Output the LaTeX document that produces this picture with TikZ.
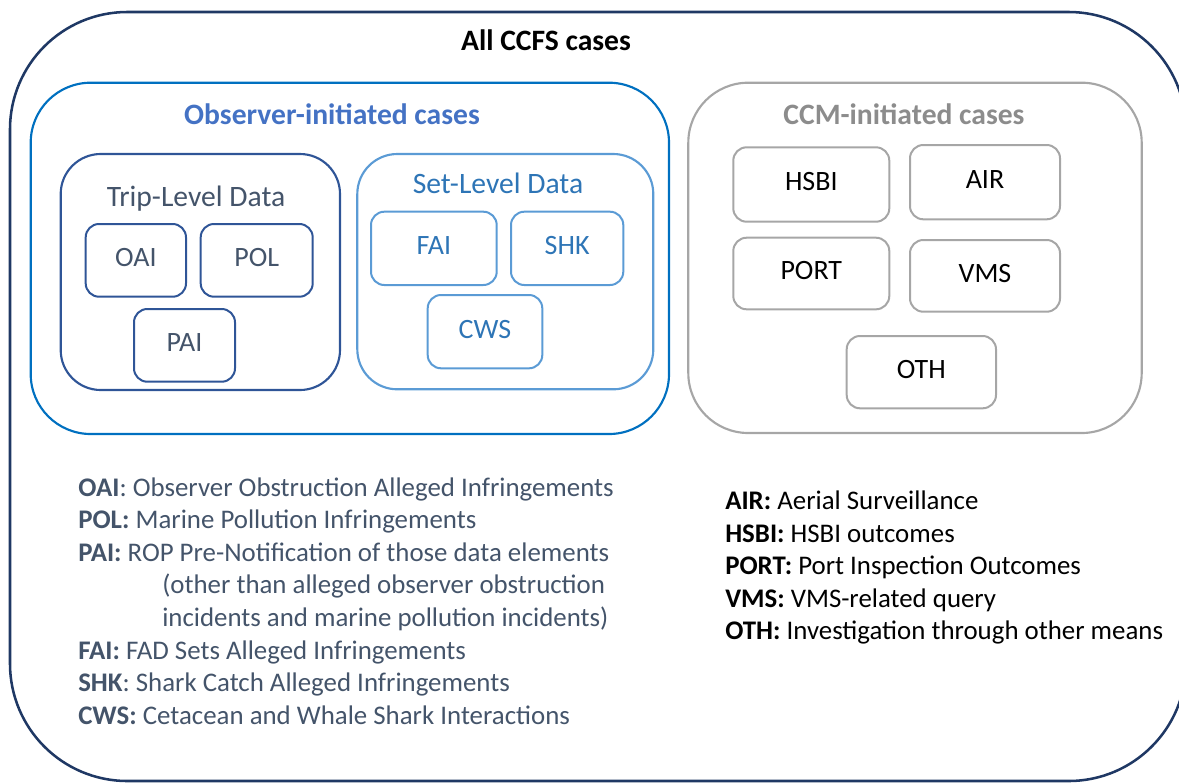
\documentclass[tikz,border=0pt]{standalone}
\usepackage{fontspec}
\setmainfont{Carlito}
\usepackage[dvipsnames,svgnames]{xcolor}

\definecolor{navyline}{HTML}{1F3864}
\definecolor{obsblue}{HTML}{0070C0}
\definecolor{tripblue}{HTML}{2F5597}
\definecolor{setblue}{HTML}{5B9BD5}
\definecolor{settext}{HTML}{2E75B6}
\definecolor{titleblue}{HTML}{4472C4}
\definecolor{slate}{HTML}{44546A}
\definecolor{ccmgray}{HTML}{A6A6A6}
\definecolor{ccmtitle}{HTML}{8C8C8C}

\begin{document}
\begin{tikzpicture}[x=0.75pt,y=0.75pt,yscale=-1,xscale=1,
    boxsize/.style 2 args={minimum width=#1*0.75pt, minimum height=#2*0.75pt},
    rrect/.style={draw, rectangle, rounded corners=#1, inner sep=0pt},
    casebox/.style={rrect=10pt, line width=1.5pt, text depth=4pt, font=\fontsize{21}{25}\selectfont},
    titlefont/.style={font=\fontsize{22.2}{26}\selectfont\bfseries},
    headfont/.style={font=\fontsize{22.2}{26}\selectfont},
    legfont/.style={font=\fontsize{20.15}{24.5}\selectfont, inner sep=0pt, anchor=base west}
  ]
\useasboundingbox (0,0) rectangle (1179,783);

%Rounded Rect: all cases
\node[rrect=88pt, line width=1.9pt, draw=navyline, boxsize={1176}{769}] (allcases) at (598,396.5) {};
% Text Node
\node[titlefont, anchor=base, inner sep=0pt] (alltitle) at (546,50) {All CCFS cases};

%Rounded Rect: observer-initiated
\node[rrect=45pt, line width=1.6pt, draw=obsblue, boxsize={638.3}{351.3}] (observer) at (349.85,258.35) {};
% Text Node
\node[titlefont, text=titleblue, anchor=base, inner sep=0pt] (obstitle) at (332,124) {Observer-initiated cases};

%Rounded Rect: trip-level
\node[rrect=30pt, line width=1.6pt, draw=tripblue, boxsize={279.3}{236}] (trip) at (200.35,272) {};
% Text Node
\node[headfont, text=slate, anchor=base, inner sep=0pt] (triptitle) at (196,206) {Trip-Level Data};

\node[casebox, draw=tripblue, text=slate, boxsize={100.3}{72.7}] (oai) at (135.85,260.35) {OAI};
\node[casebox, draw=tripblue, text=slate, boxsize={112}{72.7}] (pol) at (256.7,260.35) {POL};
\node[casebox, draw=tripblue, text=slate, boxsize={101}{72.7}] (pai) at (184.5,345.35) {PAI};

%Rounded Rect: set-level
\node[rrect=30pt, line width=1.6pt, draw=setblue, boxsize={296}{235.3}] (set) at (505.3,271.65) {};
% Text Node
\node[headfont, text=settext, anchor=base, inner sep=0pt] (settitle) at (498,193) {Set-Level Data};

\node[casebox, draw=setblue, text=settext, boxsize={125.7}{73.3}] (fai) at (433.85,248.35) {FAI};
\node[casebox, draw=setblue, text=settext, boxsize={112.3}{73.3}] (shk) at (567.15,248.35) {SHK};
\node[casebox, draw=setblue, text=settext, boxsize={114.6}{73.3}] (cws) at (485,331.65) {CWS};

%Rounded Rect: CCM-initiated
\node[rrect=45pt, line width=1.6pt, draw=ccmgray, boxsize={453.4}{350.3}] (ccm) at (915,257.85) {};
% Text Node
\node[titlefont, text=ccmtitle, anchor=base, inner sep=0pt] (ccmtitle) at (904,124) {CCM-initiated cases};

\node[casebox, draw=ccmgray, boxsize={156}{74.4}] (hsbi) at (811.3,184.5) {HSBI};
\node[casebox, draw=ccmgray, boxsize={150}{74.3}] (air) at (985,182.15) {AIR};
\node[casebox, draw=ccmgray, boxsize={156}{71.6}] (port) at (811.3,273.5) {PORT};
\node[casebox, draw=ccmgray, boxsize={150}{71.7}] (vms) at (985,275.85) {VMS};
\node[casebox, draw=ccmgray, boxsize={149.3}{72.3}] (oth) at (921.35,372.15) {OTH};

% Text Node: observer legend
\node[legfont, text=slate] (legoai) at (78,496) {\textbf{OAI}: Observer Obstruction Alleged Infringements};
\node[legfont, text=slate] (legpol) at (78,528.6) {\textbf{POL:} Marine Pollution Infringements};
\node[legfont, text=slate] (legpai) at (78,561.2) {\textbf{PAI:} ROP Pre-Notification of those data elements};
\node[legfont, text=slate] (legpaib) at (162,593.8) {(other than alleged observer obstruction};
\node[legfont, text=slate] (legpaic) at (162,626.4) {incidents and marine pollution incidents)};
\node[legfont, text=slate] (legfai) at (78,659) {\textbf{FAI:} FAD Sets Alleged Infringements};
\node[legfont, text=slate] (legshk) at (78,691.6) {\textbf{SHK}: Shark Catch Alleged Infringements};
\node[legfont, text=slate] (legcws) at (78,724.2) {\textbf{CWS:} Cetacean and Whale Shark Interactions};

% Text Node: CCM legend
\node[legfont] (legair) at (725,509.5) {\textbf{AIR:} Aerial Surveillance};
\node[legfont] (leghsbi) at (725,542) {\textbf{HSBI:} HSBI outcomes};
\node[legfont] (legport) at (725,574.5) {\textbf{PORT:} Port Inspection Outcomes};
\node[legfont] (legvms) at (725,607) {\textbf{VMS:} VMS-related query};
\node[legfont] (legoth) at (725,639.5) {\textbf{OTH:} Investigation through other means};
\end{tikzpicture}
\end{document}
